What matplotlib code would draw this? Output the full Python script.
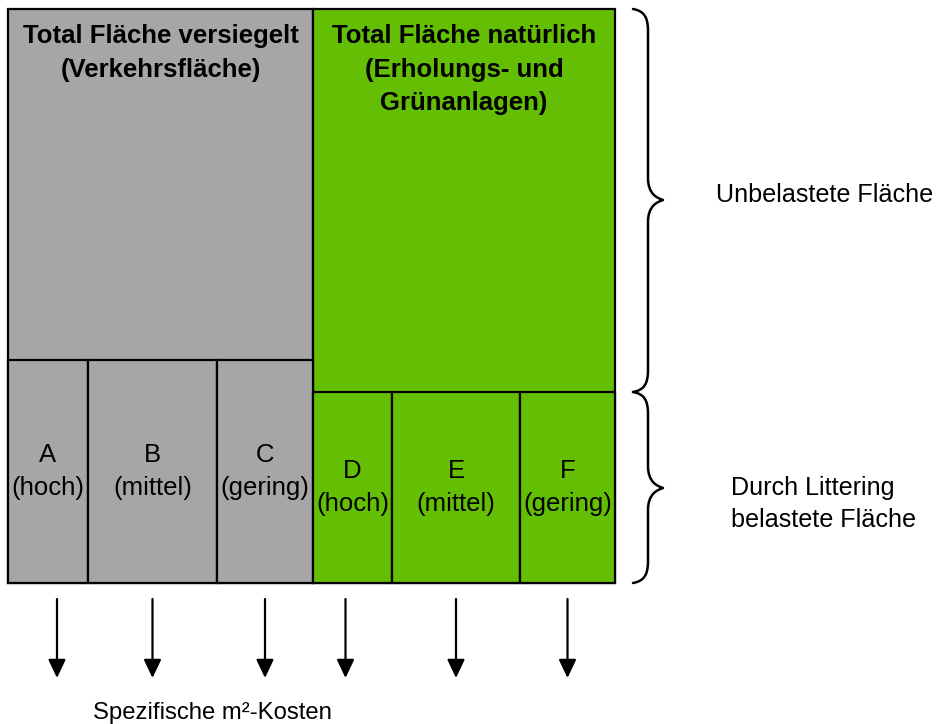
import matplotlib
matplotlib.use("Agg")
import matplotlib.pyplot as plt
from matplotlib.patches import Rectangle, PathPatch
from matplotlib.path import Path

plt.rcParams['font.family'] = ['Liberation Sans', 'DejaVu Sans']

# ---- data (relative areas) ----
group_labels = ["Total Fläche versiegelt\n(Verkehrsfläche)",
                "Total Fläche natürlich\n(Erholungs- und\nGrünanlagen)"]
group_widths = [305, 302]            # relative width of each group
littered_share = [223 / 574, 191 / 574]  # share of height that is littered
sub_labels = [["A\n(hoch)", "B\n(mittel)", "C\n(gering)"],
              ["D\n(hoch)", "E\n(mittel)", "F\n(gering)"]]
sub_widths = [[80, 129, 96], [79, 128, 95]]
group_colors = ["#A6A6A6", "#64BF04"]
brace_labels = ["Unbelastete Fläche", "Durch Littering\nbelastete Fläche"]
bottom_label = "Spezifische m²-Kosten"

# ---- layout ----
W, H = 939, 724
fig = plt.figure(figsize=(W / 100, H / 100), dpi=100)
ax = fig.add_axes([0, 0, 1, 1])
ax.set_xlim(0, W)
ax.set_ylim(H, 0)
ax.axis('off')

X0, Y0, TW, TH = 8, 9, 607, 574
FS = 18.5
LW = 1.6

total_w = sum(group_widths)
x = X0
unlit_bottoms = []
arrow_offsets = [[9, 0, 0], [-7, 0, 0]]
arrow_xs = []
for gi, gw in enumerate(group_widths):
    w = gw / total_w * TW
    col = group_colors[gi]
    ax.add_patch(Rectangle((x, Y0), w, TH, facecolor=col, edgecolor='black', lw=LW, zorder=1))
    lit_h = littered_share[gi] * TH
    ytop = Y0 + TH - lit_h
    unlit_bottoms.append(ytop)
    ax.text(x + w / 2, Y0 + 15, group_labels[gi], ha='center', va='top',
            fontsize=FS, fontweight='bold', linespacing=1.5, zorder=3)
    sw_tot = sum(sub_widths[gi])
    sx = x
    for si, sw in enumerate(sub_widths[gi]):
        ww = sw / sw_tot * w
        ax.add_patch(Rectangle((sx, ytop), ww, lit_h, facecolor=col, edgecolor='black', lw=LW, zorder=2))
        ax.text(sx + ww / 2, ytop + lit_h / 2, sub_labels[gi][si], ha='center', va='center',
                fontsize=FS, linespacing=1.5, zorder=3)
        arrow_xs.append(sx + ww / 2 + arrow_offsets[gi][si])
        sx += ww
    x += w

# arrows
for axx in arrow_xs:
    ax.annotate('', xy=(axx, 678), xytext=(axx, 599),
                arrowprops=dict(arrowstyle='-|>,head_length=0.8,head_width=0.38',
                                mutation_scale=14, lw=1.6, color='black',
                                shrinkA=0, shrinkB=0))

ax.text(212, 713, bottom_label, ha='center', va='center', fontsize=FS * 0.93)

# braces
def brace(y1, y2, ym, xe=633, xv=648, xt=663, r=22):
    verts = [(xe, y1),
             (xv - 4, y1 + 2), (xv, y1 + 8), (xv, y1 + r),
             (xv, ym - r),
             (xv, ym - 6), (xt - 6, ym - 2), (xt, ym),
             (xt - 6, ym + 2), (xv, ym + 6), (xv, ym + r),
             (xv, y2 - r),
             (xv, y2 - 8), (xv - 4, y2 - 2), (xe, y2)]
    codes = [Path.MOVETO,
             Path.CURVE4, Path.CURVE4, Path.CURVE4,
             Path.LINETO,
             Path.CURVE4, Path.CURVE4, Path.CURVE4,
             Path.CURVE4, Path.CURVE4, Path.CURVE4,
             Path.LINETO,
             Path.CURVE4, Path.CURVE4, Path.CURVE4]
    ax.add_patch(PathPatch(Path(verts, codes), fill=False, lw=1.8, edgecolor='black',
                           capstyle='round', joinstyle='round'))

y_split = max(unlit_bottoms)
y_end = Y0 + TH
brace(Y0, y_split, 200)
brace(y_split, y_end, 488)

ax.text(716, 195, brace_labels[0], ha='left', va='center', fontsize=FS * 0.98)
ax.text(731, 504, brace_labels[1], ha='left', va='center', fontsize=FS * 0.98, linespacing=1.4)

fig.savefig("out.png", dpi=100)
